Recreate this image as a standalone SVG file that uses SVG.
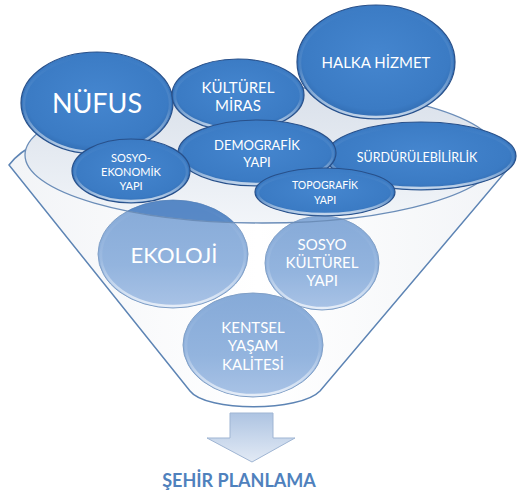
<svg xmlns="http://www.w3.org/2000/svg" width="517" height="498" viewBox="0 0 517 498">
<defs>
<radialGradient id="gDark" cx="50%" cy="45%" r="58%">
<stop offset="0" stop-color="#4586cf"/>
<stop offset="0.8" stop-color="#3b7bc4"/>
<stop offset="1" stop-color="#2d66aa"/>
</radialGradient>
<linearGradient id="gLight" x1="0" y1="0" x2="0" y2="1">
<stop offset="0" stop-color="#86aad8"/>
<stop offset="0.6" stop-color="#93b4de"/>
<stop offset="1" stop-color="#a9c3e6"/>
</linearGradient>
<linearGradient id="gGlow" x1="0" y1="0" x2="0" y2="1">
<stop offset="0" stop-color="#ffffff" stop-opacity="0"/>
<stop offset="0.55" stop-color="#ffffff" stop-opacity="0.1"/>
<stop offset="1" stop-color="#ffffff" stop-opacity="0.7"/>
</linearGradient>
<linearGradient id="gRim" x1="0" y1="0" x2="0" y2="1">
<stop offset="0" stop-color="#d9e0ea"/>
<stop offset="1" stop-color="#f2f5f9"/>
</linearGradient>
<linearGradient id="gFunnel" x1="0" y1="0" x2="1" y2="0">
<stop offset="0" stop-color="#f2f4f7"/>
<stop offset="0.5" stop-color="#ffffff"/>
<stop offset="1" stop-color="#f2f4f7"/>
</linearGradient>
<linearGradient id="gArrow" x1="0" y1="0" x2="0" y2="1">
<stop offset="0" stop-color="#aec4e2"/>
<stop offset="1" stop-color="#e2eaf5"/>
</linearGradient>
<clipPath id="cRim">
<ellipse cx="262" cy="155" rx="237" ry="68"/>
</clipPath>
</defs>
<style>
.dk{fill:url(#gDark);stroke:#28508a;stroke-width:1.2}
.lt{fill:url(#gLight);stroke:#809fc6;stroke-width:1}
.hl{fill:none;stroke:url(#gGlow);stroke-width:2.5}
text{font-family:Lato,"Liberation Sans",sans-serif;fill:#ffffff;text-anchor:middle}
.rim{fill:none;stroke:#6b8db8;stroke-width:1.3}
</style>

<g id="funnel">
<path d="M 9,165 A 253 75 0 0 1 507,170 L 320,391 C 300,412 206,412 190,391 Z" fill="url(#gFunnel)" stroke="#5d84b4" stroke-width="1.5"/>
<ellipse cx="262" cy="155" rx="237" ry="68" fill="url(#gRim)"/>
</g>

<g id="n-ekoloji">
<ellipse class="lt" cx="173" cy="254" rx="75" ry="54"/>
<ellipse cx="173" cy="254" rx="75" ry="54" fill="#2f6cb6" fill-opacity="0.55" clip-path="url(#cRim)"/>
<ellipse class="hl" cx="173" cy="255" rx="72" ry="51"/>
<text x="174" y="263" font-size="22">EKOLOJİ</text>
</g>
<g id="n-sosyokulturel">
<ellipse class="lt" cx="322" cy="263" rx="57" ry="47"/>
<ellipse class="hl" cx="322" cy="264" rx="54" ry="44"/>
<text font-size="15"><tspan x="322" y="250">SOSYO</tspan><tspan x="322" y="268">KÜLTÜREL</tspan><tspan x="322" y="286">YAPI</tspan></text>
</g>
<g id="n-kentsel">
<ellipse class="lt" cx="253" cy="345" rx="70" ry="52"/>
<ellipse class="hl" cx="253" cy="346" rx="67" ry="49"/>
<text font-size="15"><tspan x="253" y="333">KENTSEL</tspan><tspan x="253" y="351">YAŞAM</tspan><tspan x="253" y="370">KALİTESİ</tspan></text>
</g>

<g id="rim-line">
<ellipse class="rim" cx="262" cy="155" rx="237" ry="68"/>
</g>

<g id="n-halka">
<ellipse class="dk" cx="376" cy="62" rx="79" ry="57"/>
<ellipse class="hl" cx="376" cy="63" rx="76" ry="54"/>
<text x="376" y="68" font-size="15">HALKA HİZMET</text>
</g>
<g id="n-nufus">
<ellipse class="dk" cx="97" cy="103" rx="76" ry="51"/>
<ellipse class="hl" cx="97" cy="104" rx="73" ry="48"/>
<text x="97" y="113" font-size="27">NÜFUS</text>
</g>
<g id="n-kulturel">
<ellipse class="dk" cx="238" cy="95" rx="66" ry="36"/>
<ellipse class="hl" cx="238" cy="96" rx="63" ry="33"/>
<text font-size="15"><tspan x="238" y="93">KÜLTÜREL</tspan><tspan x="238" y="111">MİRAS</tspan></text>
</g>
<g id="n-surdurulebilirlik">
<ellipse class="dk" cx="421" cy="156" rx="95" ry="34"/>
<ellipse class="hl" cx="421" cy="157" rx="92" ry="31"/>
<text x="417" y="162" font-size="12.5">SÜRDÜRÜLEBİLİRLİK</text>
</g>
<g id="n-demografik">
<ellipse class="dk" cx="257" cy="153" rx="79" ry="33"/>
<ellipse class="hl" cx="257" cy="154" rx="76" ry="30"/>
<text font-size="13"><tspan x="257" y="150">DEMOGRAFİK</tspan><tspan x="257" y="167">YAPI</tspan></text>
</g>
<g id="n-sosyoekonomik">
<ellipse class="dk" cx="131" cy="171" rx="59" ry="32"/>
<ellipse class="hl" cx="131" cy="172" rx="56" ry="29"/>
<text font-size="11"><tspan x="131" y="162">SOSYO-</tspan><tspan x="131" y="176">EKONOMİK</tspan><tspan x="131" y="190">YAPI</tspan></text>
</g>
<g id="n-topografik">
<ellipse class="dk" cx="325" cy="192" rx="70" ry="24"/>
<ellipse class="hl" cx="325" cy="193" rx="67" ry="21"/>
<text font-size="10.5"><tspan x="325" y="189">TOPOGRAFİK</tspan><tspan x="325" y="204">YAPI</tspan></text>
</g>

<g id="connectors">
<path d="M 230,413 L 273,413 L 273,438 L 295,438 L 252,462 L 207,438 L 230,438 Z" fill="url(#gArrow)" stroke="#9fb5d3" stroke-width="1"/>
</g>

<g id="n-sehir">
<text x="239" y="487" font-size="18" font-weight="bold" style="fill:#4f81bd">ŞEHİR PLANLAMA</text>
</g>
</svg>
